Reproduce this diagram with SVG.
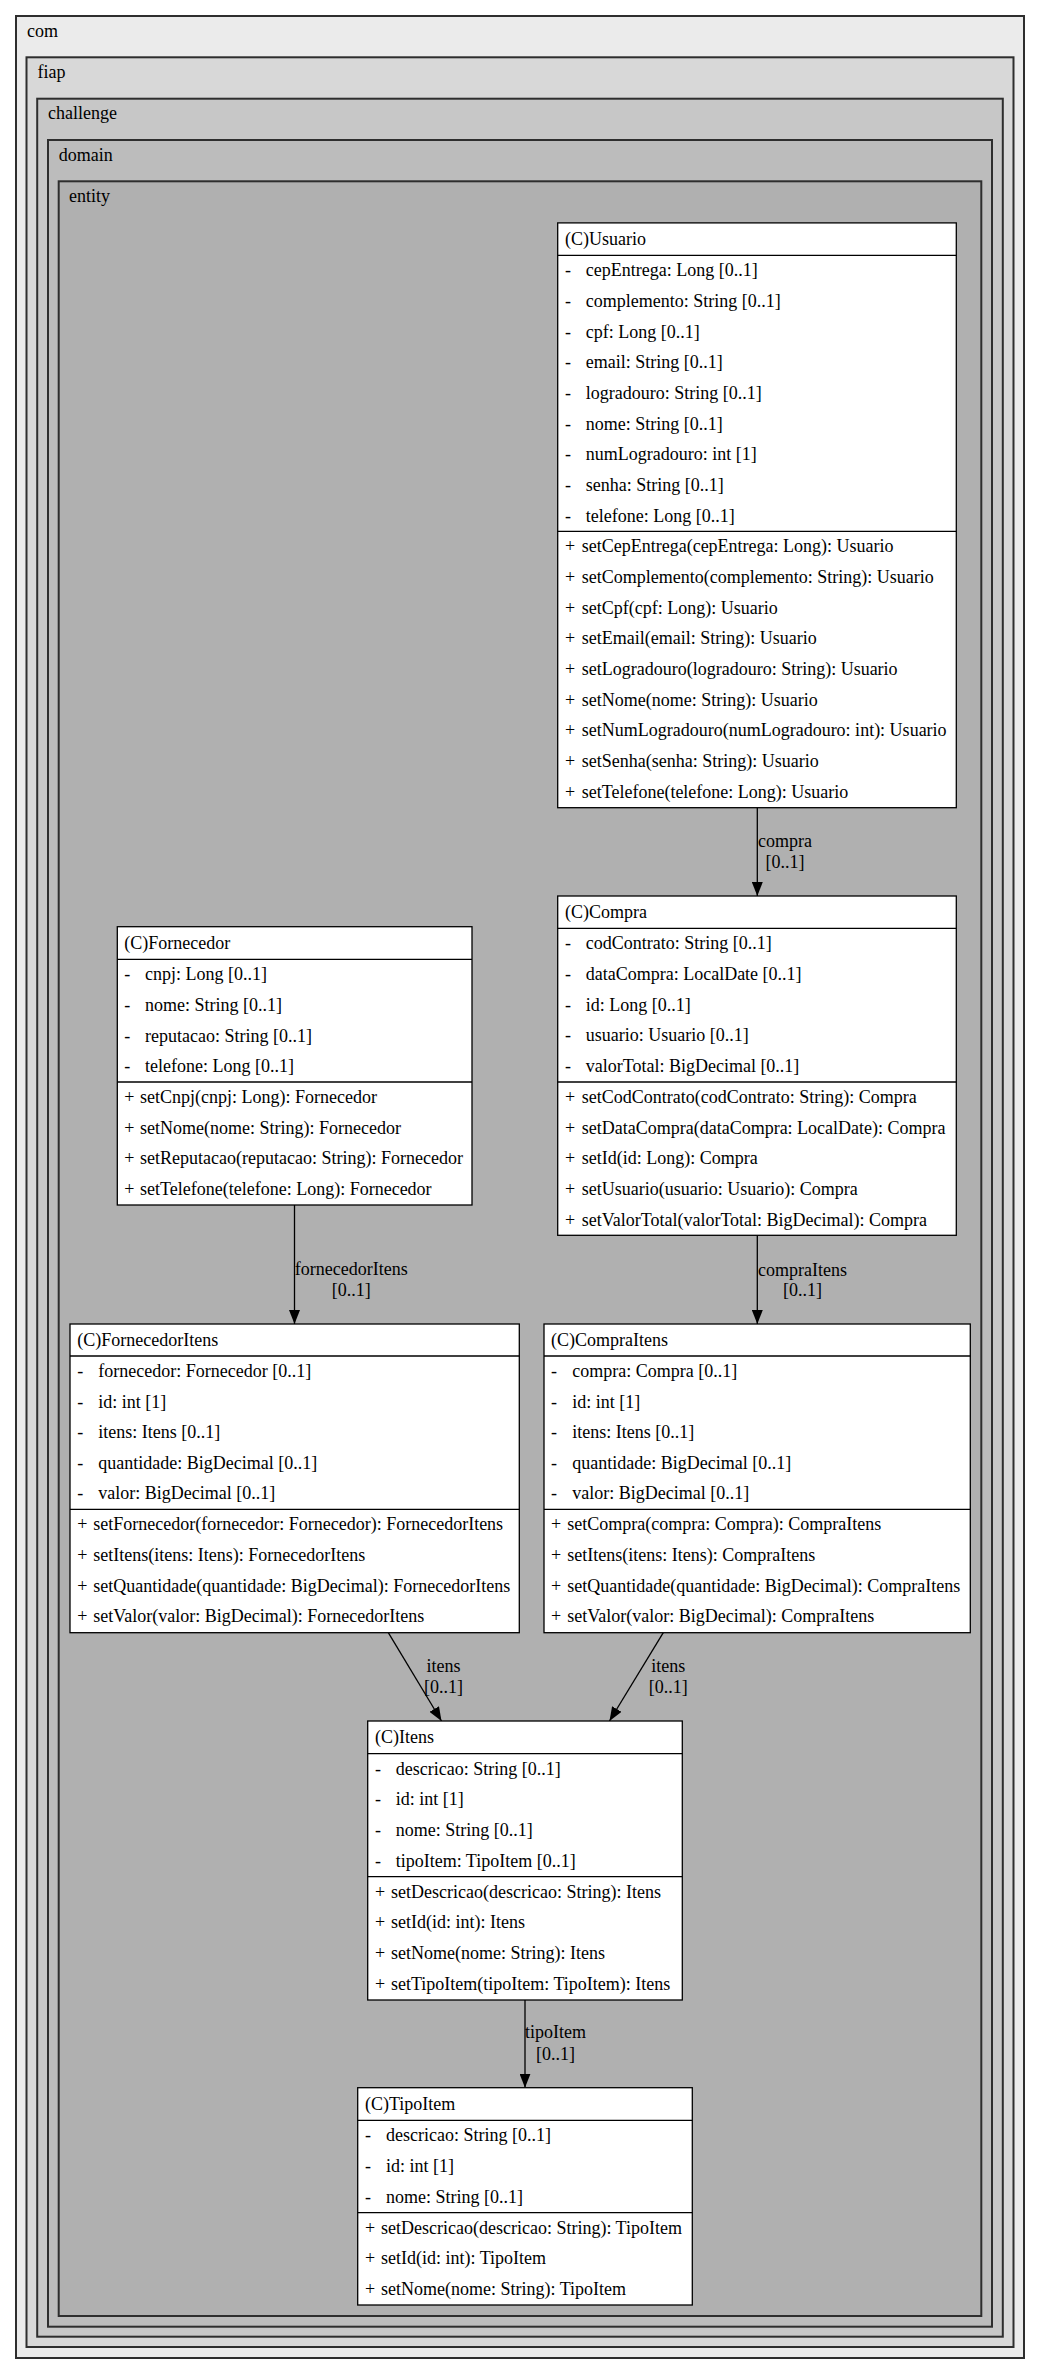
<svg xmlns="http://www.w3.org/2000/svg" width="1040" height="2375" viewBox="0 0 1040 2375">
<style>
text { font-family: "Liberation Serif", "Times New Roman", serif; font-size: 18px; fill: #000; }
.cl { stroke: #2e2e2e; stroke-width: 2; }
.box { fill: #fff; stroke: #000; stroke-width: 1.3; }
.sep { stroke: #000; stroke-width: 1.3; }
.edge { fill: none; stroke: #000; stroke-width: 1.3; marker-end: url(#arr); }
.lbl { text-anchor: middle; }
</style>
<defs>
<marker id="arr" viewBox="0 0 14 11" refX="14" refY="5.5" markerWidth="14" markerHeight="11" markerUnits="userSpaceOnUse" orient="auto">
<path d="M0,0 L14,5.5 L0,11 z" fill="#000"/>
</marker>
</defs>
<rect x="0" y="0" width="1040" height="2375" fill="#fff"/>
<g id="cluster_com">
<rect class="cl" x="16" y="16" width="1008" height="2342" fill="#ebebeb"/>
<text x="27" y="36.5">com</text>
</g>
<g id="cluster_fiap">
<rect class="cl" x="26.5" y="57.3" width="987" height="2289.7" fill="#d8d8d8"/>
<text x="37.5" y="78">fiap</text>
</g>
<g id="cluster_challenge">
<rect class="cl" x="37.2" y="98.7" width="965.6" height="2238" fill="#c7c7c7"/>
<text x="48" y="119.3">challenge</text>
</g>
<g id="cluster_domain">
<rect class="cl" x="48" y="140" width="944" height="2186.7" fill="#bcbcbc"/>
<text x="58.7" y="160.5">domain</text>
</g>
<g id="cluster_entity">
<rect class="cl" x="58.7" y="181.3" width="922.6" height="2134.7" fill="#b0b0b0"/>
<text x="69" y="201.7">entity</text>
</g>

<g id="connectors">
<path class="edge" d="M757.3,807.7 L757.3,896"/>
<text class="lbl" x="785" y="846.7">compra</text>
<text class="lbl" x="785" y="868.3">[0..1]</text>
<path class="edge" d="M294.5,1205 L294.5,1324"/>
<text class="lbl" x="351.3" y="1274.5">fornecedorItens</text>
<text class="lbl" x="351.3" y="1296">[0..1]</text>
<path class="edge" d="M757.3,1235.3 L757.3,1324"/>
<text class="lbl" x="802.5" y="1275.5">compraItens</text>
<text class="lbl" x="802.5" y="1295.5">[0..1]</text>
<path class="edge" d="M388.3,1632.7 L441.5,1721"/>
<text class="lbl" x="443.5" y="1671.7">itens</text>
<text class="lbl" x="443.5" y="1692.7">[0..1]</text>
<path class="edge" d="M663.3,1632.7 L609.5,1721"/>
<text class="lbl" x="668.3" y="1671.7">itens</text>
<text class="lbl" x="668.3" y="1692.7">[0..1]</text>
<path class="edge" d="M525,2000 L525,2087.7"/>
<text class="lbl" x="555.5" y="2038.3">tipoItem</text>
<text class="lbl" x="555.5" y="2060">[0..1]</text>
</g>

<g id="Usuario">
<rect class="box" x="557.7" y="222.9" width="398.6" height="584.8"/>
<line class="sep" x1="557.7" y1="255.4" x2="956.3" y2="255.4"/>
<line class="sep" x1="557.7" y1="531.4" x2="956.3" y2="531.4"/>
<text x="565" y="244.7">(C)Usuario</text>
<text x="565" y="276.2">-</text><text x="585.7" y="276.2">cepEntrega: Long [0..1]</text>
<text x="565" y="306.9">-</text><text x="585.7" y="306.9">complemento: String [0..1]</text>
<text x="565" y="337.6">-</text><text x="585.7" y="337.6">cpf: Long [0..1]</text>
<text x="565" y="368.2">-</text><text x="585.7" y="368.2">email: String [0..1]</text>
<text x="565" y="398.9">-</text><text x="585.7" y="398.9">logradouro: String [0..1]</text>
<text x="565" y="429.6">-</text><text x="585.7" y="429.6">nome: String [0..1]</text>
<text x="565" y="460.3">-</text><text x="585.7" y="460.3">numLogradouro: int [1]</text>
<text x="565" y="491">-</text><text x="585.7" y="491">senha: String [0..1]</text>
<text x="565" y="521.6">-</text><text x="585.7" y="521.6">telefone: Long [0..1]</text>
<text x="565" y="552.2">+</text><text x="581.7" y="552.2">setCepEntrega(cepEntrega: Long): Usuario</text>
<text x="565" y="582.9">+</text><text x="581.7" y="582.9">setComplemento(complemento: String): Usuario</text>
<text x="565" y="613.6">+</text><text x="581.7" y="613.6">setCpf(cpf: Long): Usuario</text>
<text x="565" y="644.2">+</text><text x="581.7" y="644.2">setEmail(email: String): Usuario</text>
<text x="565" y="674.9">+</text><text x="581.7" y="674.9">setLogradouro(logradouro: String): Usuario</text>
<text x="565" y="705.6">+</text><text x="581.7" y="705.6">setNome(nome: String): Usuario</text>
<text x="565" y="736.3">+</text><text x="581.7" y="736.3">setNumLogradouro(numLogradouro: int): Usuario</text>
<text x="565" y="767">+</text><text x="581.7" y="767">setSenha(senha: String): Usuario</text>
<text x="565" y="797.6">+</text><text x="581.7" y="797.6">setTelefone(telefone: Long): Usuario</text>
</g>

<g id="Compra">
<rect class="box" x="557.7" y="896" width="398.6" height="339.3"/>
<line class="sep" x1="557.7" y1="928.3" x2="956.3" y2="928.3"/>
<line class="sep" x1="557.7" y1="1082" x2="956.3" y2="1082"/>
<text x="565" y="917.8">(C)Compra</text>
<text x="565" y="949.1">-</text><text x="585.7" y="949.1">codContrato: String [0..1]</text>
<text x="565" y="979.8">-</text><text x="585.7" y="979.8">dataCompra: LocalDate [0..1]</text>
<text x="565" y="1010.5">-</text><text x="585.7" y="1010.5">id: Long [0..1]</text>
<text x="565" y="1041.2">-</text><text x="585.7" y="1041.2">usuario: Usuario [0..1]</text>
<text x="565" y="1071.9">-</text><text x="585.7" y="1071.9">valorTotal: BigDecimal [0..1]</text>
<text x="565" y="1102.8">+</text><text x="581.7" y="1102.8">setCodContrato(codContrato: String): Compra</text>
<text x="565" y="1133.5">+</text><text x="581.7" y="1133.5">setDataCompra(dataCompra: LocalDate): Compra</text>
<text x="565" y="1164.2">+</text><text x="581.7" y="1164.2">setId(id: Long): Compra</text>
<text x="565" y="1194.9">+</text><text x="581.7" y="1194.9">setUsuario(usuario: Usuario): Compra</text>
<text x="565" y="1225.6">+</text><text x="581.7" y="1225.6">setValorTotal(valorTotal: BigDecimal): Compra</text>
</g>

<g id="Fornecedor">
<rect class="box" x="117.3" y="926.7" width="354.7" height="278.3"/>
<line class="sep" x1="117.3" y1="959.3" x2="472" y2="959.3"/>
<line class="sep" x1="117.3" y1="1082" x2="472" y2="1082"/>
<text x="124.3" y="948.5">(C)Fornecedor</text>
<text x="124.3" y="980.1">-</text><text x="145" y="980.1">cnpj: Long [0..1]</text>
<text x="124.3" y="1010.8">-</text><text x="145" y="1010.8">nome: String [0..1]</text>
<text x="124.3" y="1041.5">-</text><text x="145" y="1041.5">reputacao: String [0..1]</text>
<text x="124.3" y="1072.2">-</text><text x="145" y="1072.2">telefone: Long [0..1]</text>
<text x="124.3" y="1102.8">+</text><text x="140" y="1102.8">setCnpj(cnpj: Long): Fornecedor</text>
<text x="124.3" y="1133.5">+</text><text x="140" y="1133.5">setNome(nome: String): Fornecedor</text>
<text x="124.3" y="1164.2">+</text><text x="140" y="1164.2">setReputacao(reputacao: String): Fornecedor</text>
<text x="124.3" y="1194.9">+</text><text x="140" y="1194.9">setTelefone(telefone: Long): Fornecedor</text>
</g>

<g id="FornecedorItens">
<rect class="box" x="70" y="1324" width="449.3" height="308.7"/>
<line class="sep" x1="70" y1="1356" x2="519.3" y2="1356"/>
<line class="sep" x1="70" y1="1509.3" x2="519.3" y2="1509.3"/>
<text x="77.3" y="1345.8">(C)FornecedorItens</text>
<text x="77.3" y="1376.8">-</text><text x="98.3" y="1376.8">fornecedor: Fornecedor [0..1]</text>
<text x="77.3" y="1407.5">-</text><text x="98.3" y="1407.5">id: int [1]</text>
<text x="77.3" y="1438.1">-</text><text x="98.3" y="1438.1">itens: Itens [0..1]</text>
<text x="77.3" y="1468.8">-</text><text x="98.3" y="1468.8">quantidade: BigDecimal [0..1]</text>
<text x="77.3" y="1499.4">-</text><text x="98.3" y="1499.4">valor: BigDecimal [0..1]</text>
<text x="77.3" y="1530.1">+</text><text x="93.3" y="1530.1">setFornecedor(fornecedor: Fornecedor): FornecedorItens</text>
<text x="77.3" y="1560.8">+</text><text x="93.3" y="1560.8">setItens(itens: Itens): FornecedorItens</text>
<text x="77.3" y="1591.5">+</text><text x="93.3" y="1591.5">setQuantidade(quantidade: BigDecimal): FornecedorItens</text>
<text x="77.3" y="1622.1">+</text><text x="93.3" y="1622.1">setValor(valor: BigDecimal): FornecedorItens</text>
</g>

<g id="CompraItens">
<rect class="box" x="544" y="1324" width="426.3" height="308.7"/>
<line class="sep" x1="544" y1="1356" x2="970.3" y2="1356"/>
<line class="sep" x1="544" y1="1509.3" x2="970.3" y2="1509.3"/>
<text x="551" y="1345.8">(C)CompraItens</text>
<text x="551" y="1376.8">-</text><text x="572.3" y="1376.8">compra: Compra [0..1]</text>
<text x="551" y="1407.5">-</text><text x="572.3" y="1407.5">id: int [1]</text>
<text x="551" y="1438.1">-</text><text x="572.3" y="1438.1">itens: Itens [0..1]</text>
<text x="551" y="1468.8">-</text><text x="572.3" y="1468.8">quantidade: BigDecimal [0..1]</text>
<text x="551" y="1499.4">-</text><text x="572.3" y="1499.4">valor: BigDecimal [0..1]</text>
<text x="551" y="1530.1">+</text><text x="567.3" y="1530.1">setCompra(compra: Compra): CompraItens</text>
<text x="551" y="1560.8">+</text><text x="567.3" y="1560.8">setItens(itens: Itens): CompraItens</text>
<text x="551" y="1591.5">+</text><text x="567.3" y="1591.5">setQuantidade(quantidade: BigDecimal): CompraItens</text>
<text x="551" y="1622.1">+</text><text x="567.3" y="1622.1">setValor(valor: BigDecimal): CompraItens</text>
</g>

<g id="Itens">
<rect class="box" x="367.7" y="1721" width="314.6" height="279"/>
<line class="sep" x1="367.7" y1="1753.7" x2="682.3" y2="1753.7"/>
<line class="sep" x1="367.7" y1="1876.7" x2="682.3" y2="1876.7"/>
<text x="375" y="1742.8">(C)Itens</text>
<text x="375" y="1774.5">-</text><text x="395.7" y="1774.5">descricao: String [0..1]</text>
<text x="375" y="1805.3">-</text><text x="395.7" y="1805.3">id: int [1]</text>
<text x="375" y="1836">-</text><text x="395.7" y="1836">nome: String [0..1]</text>
<text x="375" y="1866.8">-</text><text x="395.7" y="1866.8">tipoItem: TipoItem [0..1]</text>
<text x="375" y="1897.5">+</text><text x="391" y="1897.5">setDescricao(descricao: String): Itens</text>
<text x="375" y="1928.3">+</text><text x="391" y="1928.3">setId(id: int): Itens</text>
<text x="375" y="1959.1">+</text><text x="391" y="1959.1">setNome(nome: String): Itens</text>
<text x="375" y="1989.9">+</text><text x="391" y="1989.9">setTipoItem(tipoItem: TipoItem): Itens</text>
</g>

<g id="TipoItem">
<rect class="box" x="357.7" y="2087.7" width="334.6" height="217.3"/>
<line class="sep" x1="357.7" y1="2120.3" x2="692.3" y2="2120.3"/>
<line class="sep" x1="357.7" y1="2212.7" x2="692.3" y2="2212.7"/>
<text x="365" y="2109.5">(C)TipoItem</text>
<text x="365" y="2141.1">-</text><text x="386" y="2141.1">descricao: String [0..1]</text>
<text x="365" y="2171.9">-</text><text x="386" y="2171.9">id: int [1]</text>
<text x="365" y="2202.7">-</text><text x="386" y="2202.7">nome: String [0..1]</text>
<text x="365" y="2233.5">+</text><text x="381" y="2233.5">setDescricao(descricao: String): TipoItem</text>
<text x="365" y="2264.3">+</text><text x="381" y="2264.3">setId(id: int): TipoItem</text>
<text x="365" y="2295">+</text><text x="381" y="2295">setNome(nome: String): TipoItem</text>
</g>
</svg>
